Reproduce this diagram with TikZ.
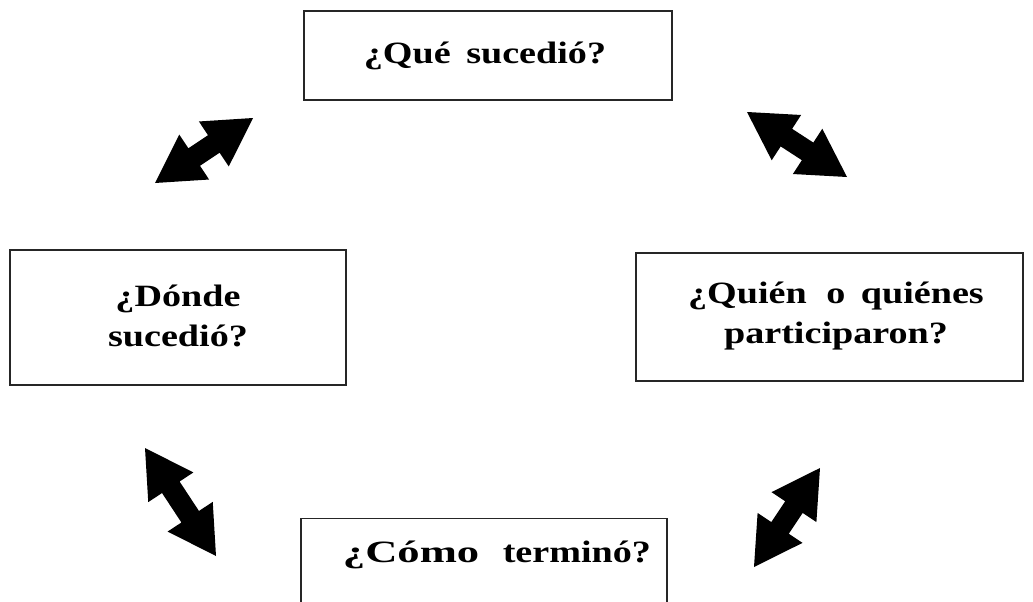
\documentclass[tikz,border=0pt]{standalone}
\usepackage{fontspec}
\setmainfont{Liberation Serif}[FakeStretch=1.23]
\usetikzlibrary{calc}
\tikzset{
  qbox/.style={draw=black!85, line width=1.3pt, inner sep=0pt},
  qtext/.style={font=\fontsize{31}{40}\selectfont\bfseries, align=center, inner sep=0pt},
}
\newcommand\fatarrow[2]{%
  \fill[black]
    (#1) -- ($(#1)!47pt!(#2)!27pt!90:(#2)$) -- ($(#1)!47pt!(#2)!10.5pt!90:(#2)$)
    -- ($(#2)!47pt!(#1)!10.5pt!-90:(#1)$) -- ($(#2)!47pt!(#1)!27pt!-90:(#1)$)
    -- (#2) -- ($(#2)!47pt!(#1)!27pt!90:(#1)$) -- ($(#2)!47pt!(#1)!10.5pt!90:(#1)$)
    -- ($(#1)!47pt!(#2)!10.5pt!-90:(#2)$) -- ($(#1)!47pt!(#2)!27pt!-90:(#2)$) -- cycle;}
\begin{document}
\begin{tikzpicture}[x=1pt,y=-1pt]
\clip (0,0) rectangle (1033,602);
\fill[white] (0,0) rectangle (1033,602);
% boxes
\node[qbox, minimum width=368pt, minimum height=89pt] (top) at (488,55.5) {};
\node[qtext] (toptext) at (485,56) {¿Qué\hspace{6pt} sucedió?};
\node[qbox, minimum width=336pt, minimum height=135pt] (left) at (178,317.5) {};
\node[qtext] (lefttext) at (178,316) {¿Dónde\\sucedió?};
\node[qbox, minimum width=387pt, minimum height=128pt] (right) at (829.5,317) {};
\node[qtext] (righttext) at (836,316) {¿Quién\hspace{10pt} o\hspace{6pt} quiénes\\participaron?};
\node[qbox, minimum width=366pt, minimum height=110pt, anchor=north] (bottom) at (484,518) {};
\node[qtext] (bottomtext) at (497,555) {\scalebox{1.17}[1]{¿Cómo}\hspace{14pt} terminó?};
% arrows
\coordinate (a1) at (155,183); \coordinate (a2) at (253,118);
\coordinate (b1) at (747,112); \coordinate (b2) at (847,177);
\coordinate (c1) at (145,448); \coordinate (c2) at (216,556);
\coordinate (d1) at (754,567); \coordinate (d2) at (820,468);
\fatarrow{a1}{a2}
\fatarrow{b1}{b2}
\fatarrow{c1}{c2}
\fatarrow{d1}{d2}
\end{tikzpicture}
\end{document}
